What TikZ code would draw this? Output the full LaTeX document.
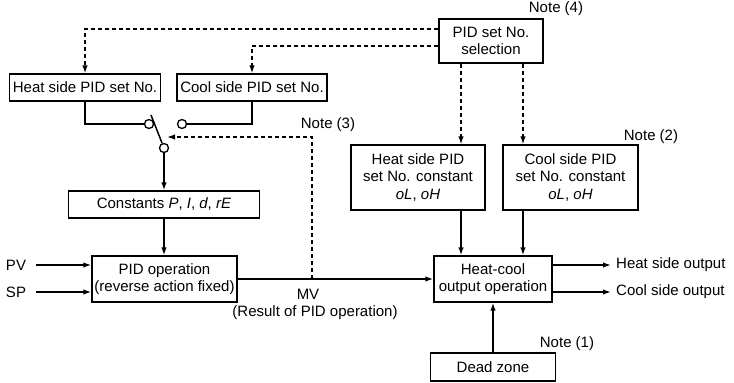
\documentclass[tikz,border=0pt]{standalone}
\usepackage{fontspec}
\setmainfont{Liberation Sans}
\usetikzlibrary{arrows.meta}
\begin{document}
\begin{tikzpicture}[x=1pt,y=-1pt,
  font=\fontsize{15}{17.5}\selectfont,
  box/.style={draw,line width=1.3pt,inner sep=0pt,align=center},
  ln/.style={line width=1.5pt},
  arr/.style={ln,-{Latex[length=8pt,width=5.5pt]}},
  dsh/.style={line width=1.4pt,dash pattern=on 4pt off 3pt},
  darr/.style={dsh,-{Latex[length=8pt,width=5.5pt]}},
  lbl/.style={inner sep=0pt},
  contact/.style={circle,draw,line width=1.3pt,minimum size=9pt,inner sep=0pt,fill=white}]
\useasboundingbox (0,0) rectangle (734,383);

% boxes
\node[box,minimum width=151pt,minimum height=27pt] (heatno) at (85,87.5) {Heat side PID set No.};
\node[box,minimum width=150pt,minimum height=27pt] (coolno) at (252,87.5) {Cool side PID set No.};
\node[box,minimum width=104pt,minimum height=44pt] (sel) at (491,41) {PID set No.\\selection};
\node[box,minimum width=134pt,minimum height=65pt] (heatc) at (418,177.5) {Heat side PID\\set No. constant\\\textit{oL}, \textit{oH}};
\node[box,minimum width=135pt,minimum height=65pt] (coolc) at (570.5,177.5) {Cool side PID\\set No. constant\\\textit{oL}, \textit{oH}};
\node[box,minimum width=118pt,minimum height=46pt] (hc) at (493,279) {Heat-cool\\output operation};
\node[box,minimum width=125pt,minimum height=28pt] (dead) at (493,367) {Dead zone};
\node[box,minimum width=191pt,minimum height=27pt] (const) at (164,204.5) {Constants \textit{P}, \textit{I}, \textit{d}, \textit{rE}};
\node[box,minimum width=145pt,minimum height=46pt] (pid) at (164.5,279) {PID operation\\(reverse action fixed)};

% labels
\node[lbl] (n4) at (556,9) {Note (4)};
\node[lbl] (n2) at (651,137) {Note (2)};
\node[lbl] (n1) at (567,344) {Note (1)};
\node[lbl] (n3) at (328,125) {Note (3)};
\node[lbl] (pv) at (16,265) {PV};
\node[lbl] (sp) at (16,292) {SP};
\node[lbl,anchor=west] (hout) at (616,265) {Heat side output};
\node[lbl,anchor=west] (cout) at (616,292) {Cool side output};
\node[lbl] (mv) at (308,294) {MV};
\node[lbl] (res) at (315,313) {(Result of PID operation)};

% switch
\node[contact] (sa) at (149,124) {};
\node[contact] (sb) at (182,124) {};
\node[contact] (piv) at (164,148) {};
\coordinate (levtop) at (151,115);
\coordinate (levhit) at (167,137);
\coordinate (mvtap) at (312,279);
\coordinate (xa) at (461,0);
\coordinate (xb) at (523,0);

\draw[ln] (piv) -- (levtop);
\draw[ln] (heatno.south) |- (sa.west);
\draw[ln] (coolno.south) |- (sb.east);
\draw[arr] (piv.south) -- (piv.south |- const.north);
\draw[arr] (const.south) -- (const.south |- pid.north);

% dashed selection lines
\draw[darr] ([yshift=12pt]sel.west) -| (heatno.north);
\draw[darr] ([yshift=-5pt]sel.west) -| (coolno.north);
\draw[darr] (xa |- sel.south) -- (xa |- heatc.north);
\draw[darr] (xb |- sel.south) -- (xb |- coolc.north);
\draw[darr] (mvtap) |- (levhit);

% solid flows
\draw[arr] (xa |- heatc.south) -- (xa |- hc.north);
\draw[arr] (xb |- coolc.south) -- (xb |- hc.north);
\draw[arr] (dead.north) -- (hc.south);
\draw[arr] (pid.east) -- (hc.west);
\draw[arr,shorten <=10pt] (pv.east) -- (pv.east -| pid.west);
\draw[arr,shorten <=10pt] (sp.east) -- (sp.east -| pid.west);
\draw[arr,shorten >=5pt] ([yshift=14pt]hc.east) -- ([yshift=14pt]hc.east -| hout.west);
\draw[arr,shorten >=5pt] ([yshift=-13pt]hc.east) -- ([yshift=-13pt]hc.east -| cout.west);
\end{tikzpicture}
\end{document}
